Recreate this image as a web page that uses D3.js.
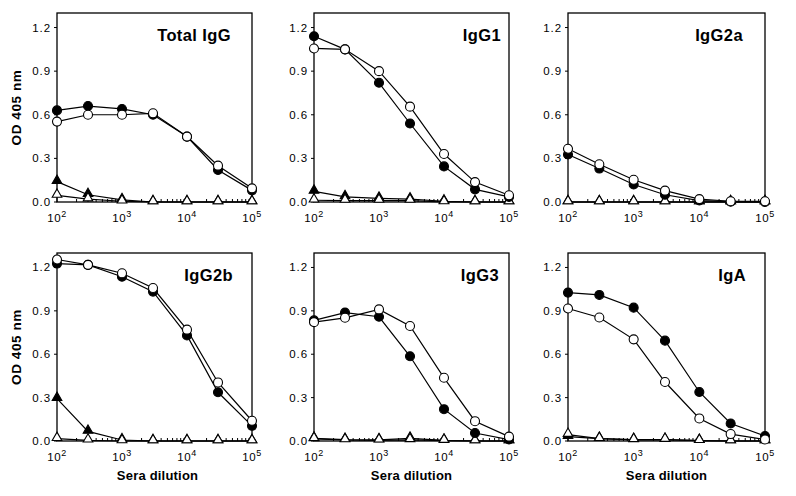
<!DOCTYPE html>
<html><head><meta charset="utf-8">
<script src="https://cdn.jsdelivr.net/npm/d3@7"></script>
<style>
body{margin:0;background:#fff;}
svg{display:block;}
text{font-family:"Liberation Sans",Arial,Helvetica,sans-serif;fill:#000;}
</style></head>
<body>
<svg id="c" width="796" height="496"></svg>
<script>
// ---- data ----
const dilutions = [100, 300, 1000, 3000, 10000, 30000, 100000];
const panelTitles = ["Total IgG", "IgG1", "IgG2a", "IgG2b", "IgG3", "IgA"];
const yTicks = [0, 0.3, 0.6, 0.9, 1.2];
const yTickLabels = ["0.0", "0.3", "0.6", "0.9", "1.2"];
const xTickExponents = [2, 3, 4, 5];

// filled circles
const fc_totalIgG = [0.63, 0.66, 0.64, 0.60, 0.45, 0.22, 0.08];
const fc_IgG1     = [1.14, 1.05, 0.82, 0.54, 0.245, 0.087, 0.035];
const fc_IgG2a    = [0.327, 0.23, 0.12, 0.05, 0.01, 0.002, 0.0];
const fc_IgG2b    = [1.227, 1.218, 1.136, 1.033, 0.73, 0.337, 0.105];
const fc_IgG3     = [0.834, 0.888, 0.859, 0.586, 0.22, 0.055, 0.01];
const fc_IgA      = [1.026, 1.01, 0.922, 0.694, 0.339, 0.121, 0.034];
// open circles
const oc_totalIgG = [0.553, 0.60, 0.60, 0.61, 0.45, 0.25, 0.094];
const oc_IgG1     = [1.056, 1.05, 0.90, 0.656, 0.33, 0.137, 0.046];
const oc_IgG2a    = [0.366, 0.26, 0.153, 0.078, 0.02, 0.005, 0.005];
const oc_IgG2b    = [1.255, 1.218, 1.16, 1.058, 0.77, 0.405, 0.14];
const oc_IgG3     = [0.822, 0.852, 0.91, 0.795, 0.437, 0.137, 0.03];
const oc_IgA      = [0.916, 0.854, 0.703, 0.408, 0.156, 0.048, 0.01];
// filled triangles
const ft_totalIgG = [0.14, 0.05, 0.015, 0.0, 0.0, 0.0, 0.0];
const ft_IgG1     = [0.073, 0.035, 0.025, 0.02, 0.005, 0.0, 0.0];
const ft_IgG2a    = [0.0, 0.0, 0.0, 0.0, 0.0, 0.0, 0.0];
const ft_IgG2b    = [0.293, 0.066, 0.007, 0.0, 0.0, 0.0, 0.0];
const ft_IgG3     = [0.018, 0.01, 0.008, 0.018, 0.005, 0.0, 0.0];
const ft_IgA      = [0.03, 0.016, 0.01, 0.01, 0.003, 0.0, 0.0];
// open triangles
const ot_totalIgG = [0.045, 0.02, 0.005, 0.0, 0.0, 0.0, 0.0];
const ot_IgG1     = [0.012, 0.01, 0.01, 0.01, 0.0, 0.0, 0.0];
const ot_IgG2a    = [0.0, 0.0, 0.0, 0.0, 0.0, 0.0, 0.0];
const ot_IgG2b    = [0.016, 0.005, 0.0, 0.0, 0.0, 0.0, 0.0];
const ot_IgG3     = [0.015, 0.007, 0.005, 0.008, 0.003, 0.0, 0.0];
const ot_IgA      = [0.044, 0.016, 0.008, 0.01, 0.002, 0.0, 0.0];

const filledCircles = [fc_totalIgG, fc_IgG1, fc_IgG2a, fc_IgG2b, fc_IgG3, fc_IgA];
const openCircles   = [oc_totalIgG, oc_IgG1, oc_IgG2a, oc_IgG2b, oc_IgG3, oc_IgA];
const filledTris    = [ft_totalIgG, ft_IgG1, ft_IgG2a, ft_IgG2b, ft_IgG3, ft_IgA];
const openTris      = [ot_totalIgG, ot_IgG1, ot_IgG2a, ot_IgG2b, ot_IgG3, ot_IgA];

// ---- layout ----
const colLeft = [57, 314, 568];
const colWidth = [195, 195, 197];
const rowTop = [13, 253];
const rowHeight = [189, 188];
const titleRightGap = [21, 8, 22, 19, 10, 19];
const titleBaseline = 28;

const svg = d3.select("#c");
svg.append("rect").attr("width", 796).attr("height", 496).attr("fill", "#fff");

panelTitles.forEach((title, i) => {
  const col = i % 3, row = Math.floor(i / 3);
  const W = colWidth[col], H = rowHeight[row];
  const g = svg.append("g").attr("transform", `translate(${colLeft[col]},${rowTop[row]})`);
  const x = d3.scaleLog().domain([100, 100000]).range([0, W]);
  const y = d3.scaleLinear().domain([0, 1.3]).range([H, 0]);

  // minor x ticks (inward)
  const minors = [];
  for (let e = 2; e < 5; e++) for (let m = 2; m <= 9; m++) minors.push(m * Math.pow(10, e));
  g.selectAll(".minor").data(minors).enter().append("line")
    .attr("x1", d => x(d)).attr("x2", d => x(d))
    .attr("y1", H).attr("y2", H - 3)
    .attr("stroke", "#000").attr("stroke-width", 1);
  // major x ticks
  g.selectAll(".major").data(xTickExponents).enter().append("line")
    .attr("x1", d => x(Math.pow(10, d))).attr("x2", d => x(Math.pow(10, d)))
    .attr("y1", H).attr("y2", H - 5)
    .attr("stroke", "#000").attr("stroke-width", 1);
  // x tick labels
  const xl = g.selectAll(".xl").data(xTickExponents).enter().append("text")
    .attr("x", d => x(Math.pow(10, d))).attr("y", H + 20)
    .attr("text-anchor", "middle").style("font-size", "11.5px").style("letter-spacing", "0.6px");
  xl.append("tspan").text("10");
  xl.append("tspan").attr("dy", -5).style("font-size", "9px").text(d => d);

  // y ticks (outward)
  g.selectAll(".yt").data(yTicks).enter().append("line")
    .attr("x1", -3).attr("x2", 0)
    .attr("y1", d => y(d)).attr("y2", d => y(d))
    .attr("stroke", "#000").attr("stroke-width", 1);
  g.selectAll(".yl").data(yTicks).enter().append("text")
    .attr("x", -6).attr("y", d => y(d) + 4)
    .attr("text-anchor", "end").style("font-size", "11.5px").style("letter-spacing", "0.9px")
    .text((d, k) => yTickLabels[k]);

  // frame
  g.append("rect").attr("x", 0).attr("y", 0).attr("width", W).attr("height", H)
    .attr("fill", "none").attr("stroke", "#000").attr("stroke-width", 1.3);

  const line = d3.line().x((d, k) => x(dilutions[k])).y(d => y(d));
  const series = [
    {vals: filledTris[i], shape: "tri", fill: "#000"},
    {vals: openTris[i], shape: "tri", fill: "#fff"},
    {vals: filledCircles[i], shape: "circ", fill: "#000"},
    {vals: openCircles[i], shape: "circ", fill: "#fff"}
  ];
  series.forEach(s => {
    g.append("path").datum(s.vals).attr("d", line)
      .attr("fill", "none").attr("stroke", "#000").attr("stroke-width", 1.2);
  });
  const tri = d3.symbol().type(d3.symbolTriangle).size(40);
  series.forEach(s => {
    if (s.shape === "circ") {
      g.selectAll(null).data(s.vals).enter().append("circle")
        .attr("cx", (d, k) => x(dilutions[k])).attr("cy", d => y(d)).attr("r", 4.5)
        .attr("fill", s.fill).attr("stroke", "#000").attr("stroke-width", 1.1);
    } else {
      g.selectAll(null).data(s.vals).enter().append("path")
        .attr("d", tri)
        .attr("transform", (d, k) => `translate(${x(dilutions[k])},${y(d) - 1})`)
        .attr("fill", s.fill).attr("stroke", "#000").attr("stroke-width", 1.1);
    }
  });

  // title
  g.append("text").attr("x", W - titleRightGap[i]).attr("y", titleBaseline)
    .attr("text-anchor", "end").style("font-size", "16.5px").style("font-weight", "bold")
    .style("letter-spacing", "0.4px")
    .text(title);

  // axis titles
  if (col === 0) {
    g.append("text").attr("transform", `translate(-36,${H / 2}) rotate(-90)`)
      .attr("text-anchor", "middle").style("font-size", "13.5px").style("font-weight", "bold")
      .style("letter-spacing", "0.6px")
      .text("OD 405 nm");
  }
  if (row === 1) {
    g.append("text").attr("x", W / 2 + (col === 0 ? 3 : 0)).attr("y", H + 39)
      .attr("text-anchor", "middle").style("font-size", "13px").style("font-weight", "bold")
      .style("letter-spacing", "0.2px")
      .text("Sera dilution");
  }
});
</script>
</body></html>
